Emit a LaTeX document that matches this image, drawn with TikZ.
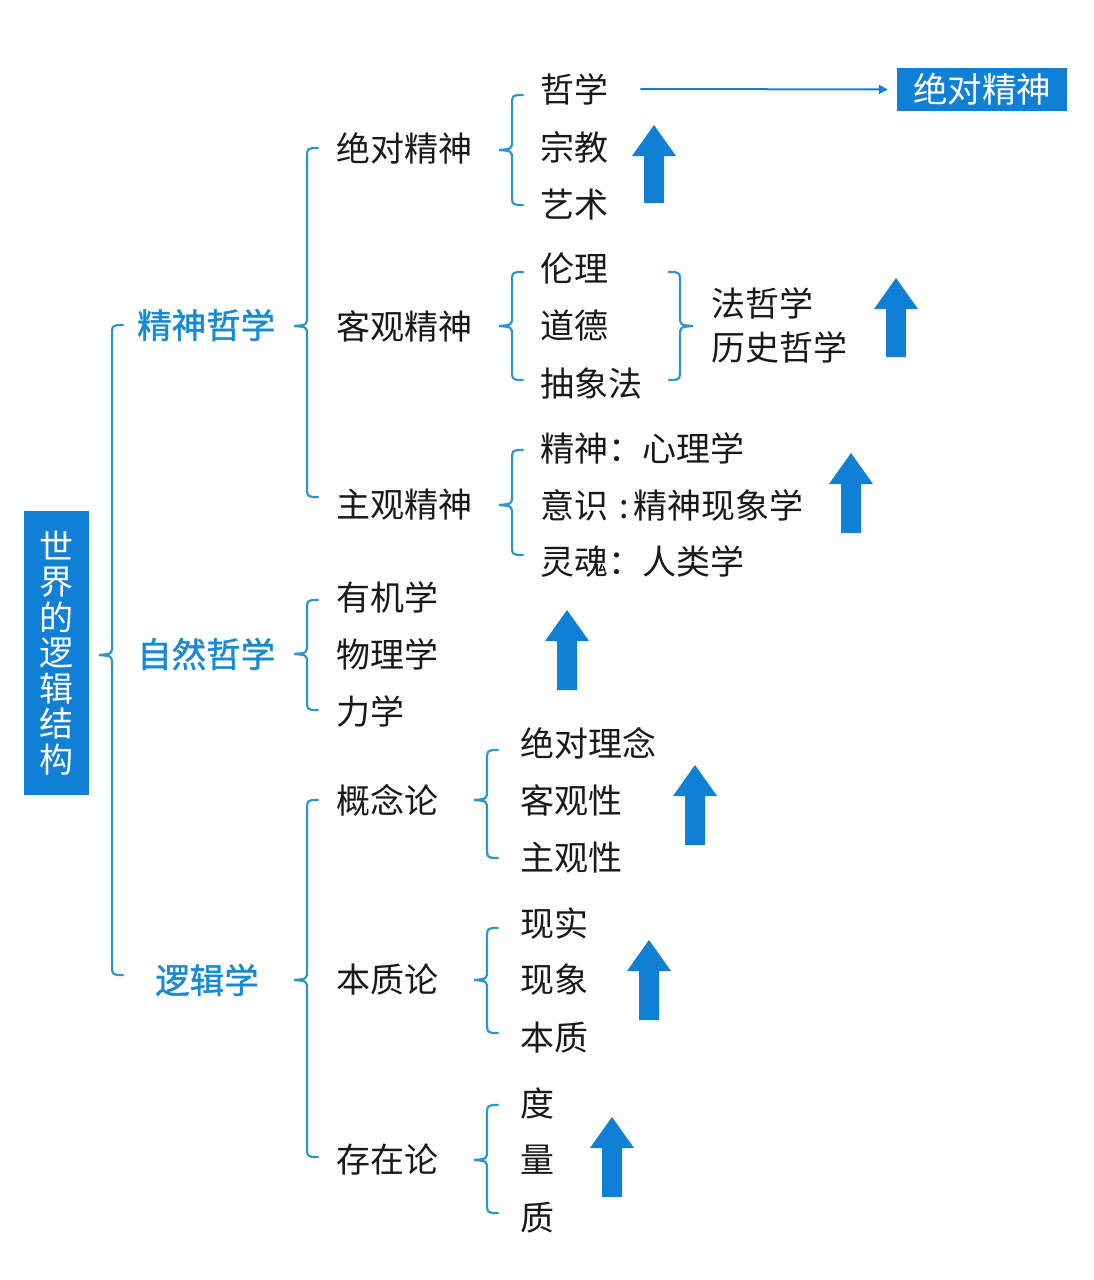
\documentclass[tikz,border=0pt]{standalone}
\usepackage{fontspec}
\setmainfont{Noto Sans CJK SC}
\newfontfamily\labfont[FakeBold=1.2]{Noto Sans CJK SC}
\usetikzlibrary{arrows.meta}
\definecolor{boxblue}{RGB}{16,128,214}
\definecolor{braceblue}{RGB}{45,150,200}
\definecolor{labblue}{RGB}{22,138,212}
\definecolor{txtcol}{RGB}{25,25,25}
\tikzset{
  bracestyle/.style={draw=braceblue, line width=2.2pt, line cap=round},
  item/.style={anchor=west, inner sep=0pt, text=txtcol, font=\fontsize{34}{36}\selectfont},
  lab/.style={anchor=west, inner sep=0pt, text=labblue, font=\labfont\fontsize{34.5}{36}\selectfont},
  upfill/.style={fill=boxblue},
}
% left brace: x, top, tip, bottom
\newcommand{\mybrace}[4]{%
  \draw[bracestyle] (#1+11,#2) .. controls (#1,#2) .. (#1,#2+12) -- (#1,#3-10)
    .. controls (#1,#3-1) .. (#1-13,#3) .. controls (#1,#3+1) .. (#1,#3+10)
    -- (#1,#4-12) .. controls (#1,#4) .. (#1+11,#4);}
% right brace: x, top, tip, bottom
\newcommand{\myrbrace}[4]{%
  \draw[bracestyle] (#1-11,#2) .. controls (#1,#2) .. (#1,#2+12) -- (#1,#3-10)
    .. controls (#1,#3-1) .. (#1+13,#3) .. controls (#1,#3+1) .. (#1,#3+10)
    -- (#1,#4-12) .. controls (#1,#4) .. (#1-11,#4);}
% up arrow: centre x, bottom, top
\newcommand{\uparr}[3]{%
  \fill[upfill] (#1-10,#2) -- (#1-10,#3+31) -- (#1-22,#3+31) -- (#1,#3)
    -- (#1+22,#3+31) -- (#1+10,#3+31) -- (#1+10,#2) -- cycle;}
\begin{document}
\begin{tikzpicture}[x=1pt,y=-1pt]
\useasboundingbox (0,0) rectangle (1094,1280);
\fill[white] (0,0) rectangle (1094,1280);

% root box
\node[fill=boxblue, minimum width=65pt, minimum height=284pt, inner sep=0pt,
      text=white, align=center, font=\fontsize{34}{35.5}\selectfont]
  (root) at (56.5,653) {世\\界\\的\\逻\\辑\\结\\构};

% top right box
\node[fill=boxblue, minimum width=170pt, minimum height=43pt, inner sep=0pt,
      text=white, font=\fontsize{34.5}{36}\selectfont] (abs) at (982,89.5) {绝对精神};

% level 1
\node[lab] (jszx) at (137,325) {精神哲学};
\node[lab] (zrzx) at (137,654) {自然哲学};
\node[lab] (ljx)  at (155,980) {逻辑学};

% level 2
\node[item] (jdjs) at (336,148) {绝对精神};
\node[item] (kgjs) at (336,326) {客观精神};
\node[item] (zgjs) at (336,505) {主观精神};
\node[item] (yjx)  at (336,597) {有机学};
\node[item] (wlx)  at (336,654) {物理学};
\node[item] (lx)   at (336,711) {力学};
\node[item] (gnl)  at (336,800) {概念论};
\node[item] (bzl)  at (336,980) {本质论};
\node[item] (czl)  at (336,1160) {存在论};

% level 3
\node[item] (zx)   at (540,89)  {哲学};
\node[item] (zj)   at (540,147) {宗教};
\node[item] (ys)   at (540,205) {艺术};
\node[item] (ll)   at (540,268) {伦理};
\node[item] (dd)   at (540,326) {道德};
\node[item] (cxf)  at (540,384) {抽象法};
\node[item] (fzx)  at (711,303) {法哲学};
\node[item] (lszx) at (711,347) {历史哲学};
\node[item] (js)   at (540,448) {精神：心理学};
\node[item] (yishi) at (540,505) {意识\hspace{11pt}:\hspace{5pt}精神现象学};
\node[item] (lh)   at (540,562) {灵魂：人类学};
\node[item] (jdln) at (520,743) {绝对理念};
\node[item] (kgx)  at (520,800) {客观性};
\node[item] (zgx)  at (520,858) {主观性};
\node[item] (xs)   at (520,923) {现实};
\node[item] (xx)   at (520,980) {现象};
\node[item] (bz)   at (520,1038) {本质};
\node[item] (du)   at (520,1103) {度};
\node[item] (liang) at (520,1160) {量};
\node[item] (zhi)  at (520,1218) {质};

% braces
\mybrace{112}{325}{655}{975}
\mybrace{307}{148}{326}{497}
\mybrace{307}{600}{654}{710}
\mybrace{307}{800}{980}{1157}
\mybrace{512}{95}{150}{205}
\mybrace{512}{272}{326}{380}
\myrbrace{680}{272}{326}{380}
\mybrace{512}{450}{505}{555}
\mybrace{487}{750}{800}{858}
\mybrace{487}{928}{980}{1033}
\mybrace{487}{1105}{1160}{1213}

% thin arrow
\draw[draw=boxblue, line width=2pt, -{Triangle[length=9pt,width=9pt]}, shorten >=9pt]
  ([xshift=32pt]zx.east) -- (abs.west);

% up arrows
\uparr{654}{203}{125}
\uparr{896}{357}{278}
\uparr{851}{533}{453}
\uparr{567}{690}{610}
\uparr{695}{845}{765}
\uparr{649}{1020}{940}
\uparr{612}{1197}{1117}
\end{tikzpicture}
\end{document}
